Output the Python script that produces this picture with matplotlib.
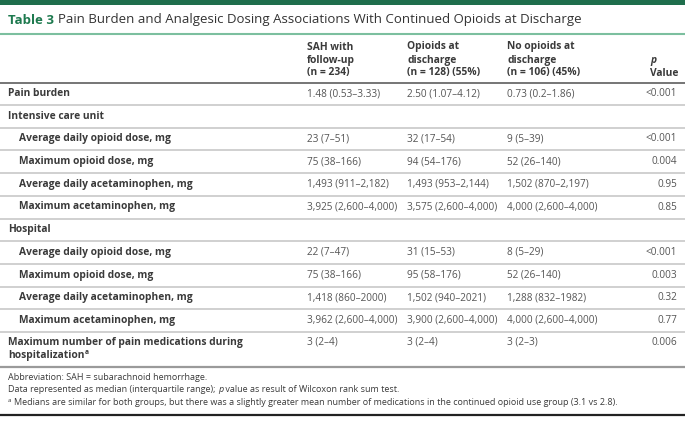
import matplotlib
matplotlib.use("Agg")
import matplotlib.pyplot as plt
from matplotlib.lines import Line2D

W, H = 685, 433
DPI = 100

title_label = "Table 3"
title_text = "Pain Burden and Analgesic Dosing Associations With Continued Opioids at Discharge"

col_headers = [
    ["SAH with", "follow-up", "(n = 234)"],
    ["Opioids at", "discharge", "(n = 128) (55%)"],
    ["No opioids at", "discharge", "(n = 106) (45%)"],
]

row_labels = [
    "Pain burden",
    "Intensive care unit",
    "Average daily opioid dose, mg",
    "Maximum opioid dose, mg",
    "Average daily acetaminophen, mg",
    "Maximum acetaminophen, mg",
    "Hospital",
    "Average daily opioid dose, mg",
    "Maximum opioid dose, mg",
    "Average daily acetaminophen, mg",
    "Maximum acetaminophen, mg",
    "Maximum number of pain medications during|hospitalization",
]
row_indent = [0, 0, 1, 1, 1, 1, 0, 1, 1, 1, 1, 0]

sah_values = ["1.48 (0.53–3.33)", "", "23 (7–51)", "75 (38–166)", "1,493 (911–2,182)",
              "3,925 (2,600–4,000)", "", "22 (7–47)", "75 (38–166)", "1,418 (860–2000)",
              "3,962 (2,600–4,000)", "3 (2–4)"]
opioid_values = ["2.50 (1.07–4.12)", "", "32 (17–54)", "94 (54–176)", "1,493 (953–2,144)",
                 "3,575 (2,600–4,000)", "", "31 (15–53)", "95 (58–176)", "1,502 (940–2021)",
                 "3,900 (2,600–4,000)", "3 (2–4)"]
noopioid_values = ["0.73 (0.2–1.86)", "", "9 (5–39)", "52 (26–140)", "1,502 (870–2,197)",
                   "4,000 (2,600–4,000)", "", "8 (5–29)", "52 (26–140)", "1,288 (832–1982)",
                   "4,000 (2,600–4,000)", "3 (2–3)"]
p_values = ["<0.001", "", "<0.001", "0.004", "0.95", "0.85", "", "<0.001", "0.003",
            "0.32", "0.77", "0.006"]

footnote_abbrev = "Abbreviation: SAH = subarachnoid hemorrhage."
footnote_data = ["Data represented as median (interquartile range); ", "p",
                 " value as result of Wilcoxon rank sum test."]
footnote_a = "Medians are similar for both groups, but there was a slightly greater mean number of medications in the continued opioid use group (3.1 vs 2.8)."

FONT = ["Open Sans", "DejaVu Sans"]
plt.rcParams['font.family'] = FONT

fig = plt.figure(figsize=(W / DPI, H / DPI), dpi=DPI)
fig.patch.set_facecolor("white")

def fx(x):
    return x / W

def fy(y):
    return 1 - y / H

def hline(y, x0, x1, color, lw):
    fig.add_artist(Line2D([fx(x0), fx(x1)], [fy(y), fy(y)], color=color, lw=lw,
                          transform=fig.transFigure, solid_capstyle="butt"))

def right_px(t):
    fig.canvas.draw()
    return t.get_window_extent().x1

GREEN = "#1f6e4c"
TEXT = "#3a3a3a"
VAL = "#555555"

# top bar
fig.add_artist(plt.Rectangle((0, fy(4.5)), 1, 4.5 / H, color=GREEN, transform=fig.transFigure, lw=0))

# title
t1 = fig.text(fx(8), fy(20), title_label, color="#1e7a4f", fontsize=9.5, fontweight="bold",
              va="center", ha="left")
fig.text(right_px(t1) / W + fx(4), fy(20), title_text, color="#333333", fontsize=9.5,
         va="center", ha="left")

hline(34, 0, W, "#7cbf9f", 1.5)

# column headers
col_x = [307, 407, 507]
hdr_fs = 7.4
hdr_y = [47, 60, 73]
for x, h in zip(col_x, col_headers):
    for yy, line in zip(hdr_y, h):
        fig.text(fx(x), fy(yy), line, fontsize=hdr_fs, fontweight="bold", color=TEXT,
                 va="center", ha="left")
fig.text(fx(650), fy(60), "p", fontsize=hdr_fs, fontweight="bold", fontstyle="italic",
         color=TEXT, va="center", ha="left")
fig.text(fx(650), fy(73), "Value", fontsize=hdr_fs, fontweight="bold", color=TEXT,
         va="center", ha="left")

hline(82.5, 0, W, "#6a6a6a", 1.3)

val_fs = 7.2
row_y0 = 93.5
row_h = 22.7
for i, lab in enumerate(row_labels):
    yc = row_y0 + i * row_h
    x = 19 if row_indent[i] else 8
    if "|" in lab:
        l1, l2 = lab.split("|")
        vy = yc - 1
        fig.text(fx(x), fy(vy), l1, fontsize=7.4, fontweight="bold", color=TEXT,
                 va="center", ha="left")
        t = fig.text(fx(x), fy(vy + 13), l2, fontsize=7.4, fontweight="bold",
                     color=TEXT, va="center", ha="left")
        fig.text(right_px(t) / W + 0.001, fy(vy + 10), "a", fontsize=4.8, fontweight="bold",
                 color=TEXT, va="center", ha="left")
    else:
        vy = yc
        fig.text(fx(x), fy(yc), lab, fontsize=7.4, fontweight="bold", color=TEXT,
                 va="center", ha="left")
    for cx, vals in zip(col_x, [sah_values, opioid_values, noopioid_values]):
        if vals[i]:
            fig.text(fx(cx), fy(vy), vals[i], fontsize=val_fs, color=VAL, va="center", ha="left")
    if p_values[i]:
        fig.text(fx(677), fy(vy), p_values[i], fontsize=val_fs, color=VAL, va="center", ha="right")
    if i < len(row_labels) - 1:
        hline(yc + 11.5, 0, W, "#c8c8c8", 1.2)

hline(366.5, 0, W, "#9a9a9a", 1.6)

fn_fs = 6.5
fig.text(fx(8), fy(378), footnote_abbrev, fontsize=fn_fs, color=TEXT, va="center", ha="left")
xx = 8
for k, part in enumerate(footnote_data):
    t = fig.text(fx(xx), fy(390), part, fontsize=fn_fs, color=TEXT, va="center", ha="left",
                 fontstyle="italic" if k == 1 else "normal")
    xx = right_px(t)
fig.text(fx(8), fy(400), "a", fontsize=4.5, color=TEXT, va="center", ha="left")
fig.text(fx(13.5), fy(402.5), footnote_a, fontsize=fn_fs, color=TEXT, va="center", ha="left")

hline(415, 0, W, "#222222", 1.6)

fig.savefig("out.png", dpi=DPI, facecolor="white")
